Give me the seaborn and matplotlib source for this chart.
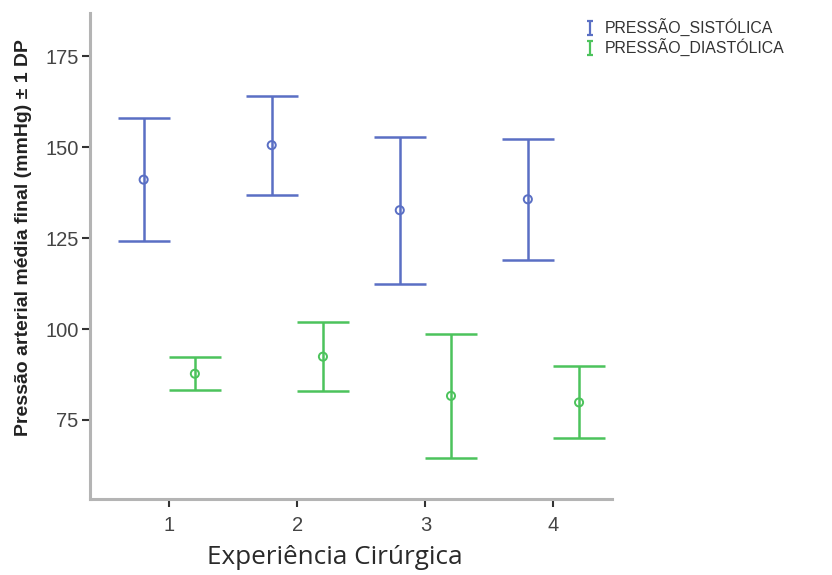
import numpy as np
import pandas as pd
import matplotlib
matplotlib.use("Agg")
import matplotlib.pyplot as plt
from matplotlib.path import Path
from matplotlib.lines import Line2D
import seaborn as sns

# Surgical experience groups
groups = [1, 2, 3, 4]

# Final mean arterial pressure (mmHg): mean and one standard deviation
sistolica_media = [141.1, 150.6, 132.7, 135.7]
sistolica_dp = [17.0, 13.6, 20.2, 16.6]
diastolica_media = [87.7, 92.4, 81.6, 79.8]
diastolica_dp = [4.6, 9.5, 17.0, 9.9]

series_names = ["PRESSÃO_SISTÓLICA", "PRESSÃO_DIASTÓLICA"]
colors = {"PRESSÃO_SISTÓLICA": "#5a6fc4", "PRESSÃO_DIASTÓLICA": "#4cc35c"}
offsets = {"PRESSÃO_SISTÓLICA": -0.2, "PRESSÃO_DIASTÓLICA": 0.2}

df = pd.DataFrame({
    "grupo": groups * 2,
    "serie": [series_names[0]] * 4 + [series_names[1]] * 4,
    "media": sistolica_media + diastolica_media,
    "dp": sistolica_dp + diastolica_dp,
})
df["x"] = df["grupo"] + df["serie"].map(offsets)

sns.set_theme(style="white")
plt.rcParams["font.family"] = ["Liberation Sans", "DejaVu Sans"]

fig = plt.figure(figsize=(8.32, 5.75), dpi=100)
ax = fig.add_axes([0.108, 0.132, 0.628, 0.845])

for name in series_names:
    sub = df[df["serie"] == name]
    ax.errorbar(sub["x"], sub["media"], yerr=sub["dp"], fmt="none",
                ecolor=colors[name], elinewidth=1.8, capsize=19,
                capthick=1.8, zorder=2)

sns.scatterplot(data=df, x="x", y="media", hue="serie", palette=colors,
                marker="o", s=34, linewidth=1.4, legend=False, ax=ax, zorder=3)
# open circle markers
for coll in ax.collections:
    fc = coll.get_facecolors()
    if len(fc):
        coll.set_edgecolors(fc)
        coll.set_facecolors("none")

ax.set_xlim(0.38, 4.46)
ax.set_ylim(53.2, 186.9)
ax.set_xticks(groups)
ax.set_xticklabels([str(g) for g in groups])
ax.set_yticks([75, 100, 125, 150, 175])
ax.tick_params(axis="both", which="major", direction="out", length=6,
               width=1.5, color="#333333", labelsize=14.5,
               labelcolor="#444444", left=True, bottom=True)
ax.tick_params(axis="x", pad=6)
ax.tick_params(axis="y", pad=2)
ax.set_xlabel("")
ax.set_ylabel("")
for side in ["top", "right"]:
    ax.spines[side].set_visible(False)
for side in ["left", "bottom"]:
    ax.spines[side].set_color("#b4b4b4")
    ax.spines[side].set_linewidth(2.2)

fig.text(0.028, 1 - 237.5 / 575, "Pressão arterial média final (mmHg) ± 1 DP",
         rotation=90, fontsize=14, fontweight="bold", color="#222222",
         ha="center", va="center")
fig.text(0.402, 0.031, "Experiência Cirúrgica",
         family=["Open Sans", "DejaVu Sans"],
         fontsize=18.8, color="#2a2a2a", ha="center", va="center")

# I-beam legend icon
ibeam = Path([(-0.5, 1), (0.5, 1), (0, 1), (0, -1), (-0.5, -1), (0.5, -1)],
             [Path.MOVETO, Path.LINETO, Path.MOVETO, Path.LINETO,
              Path.MOVETO, Path.LINETO])
handles = [Line2D([], [], linestyle="none", marker=ibeam, markersize=9.5,
                  markeredgewidth=1.6, color=colors[n], label=n)
           for n in series_names]
fig.legend(handles=handles, loc="upper left", bbox_to_anchor=(0.694, 0.978),
           frameon=False, fontsize=11.4, handlelength=0.8, handletextpad=0.5,
           labelspacing=0.12, labelcolor="#333333", borderaxespad=0)

fig.savefig("out.png", dpi=100)
